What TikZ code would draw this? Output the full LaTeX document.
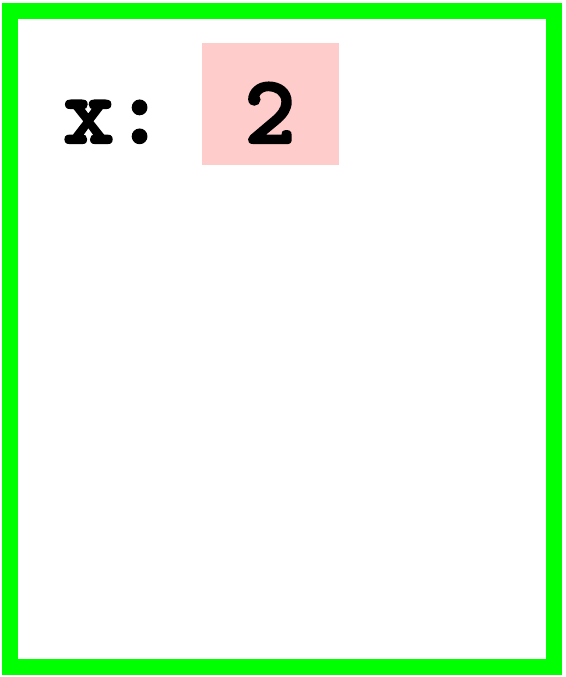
\documentclass[tikz,border=0pt]{standalone}
\usepackage{fontspec}
\newfontfamily\codefont[FakeBold=2.5]{lmmonolt10-bold.otf}
\definecolor{framegreen}{HTML}{00FF00}
\definecolor{cellpink}{HTML}{FFCCCC}
\tikzset{
  codetext/.style={font=\codefont\fontsize{97bp}{97bp}\selectfont, inner sep=0pt},
  frame/.style={draw=framegreen, line width=16bp},
  cell/.style={fill=cellpink}
}
\begin{document}
\begin{tikzpicture}[x=1bp,y=-1bp]
\useasboundingbox (0,0) rectangle (566,677);
\draw[frame] (10,11) rectangle (554,667);
\fill[cell] (202,43) rectangle (339,165);
\node[codetext, anchor=base west] (lbl) at (63,143) {x:};
\node[codetext, anchor=base] (val) at (270,143) {2};
\end{tikzpicture}
\end{document}
